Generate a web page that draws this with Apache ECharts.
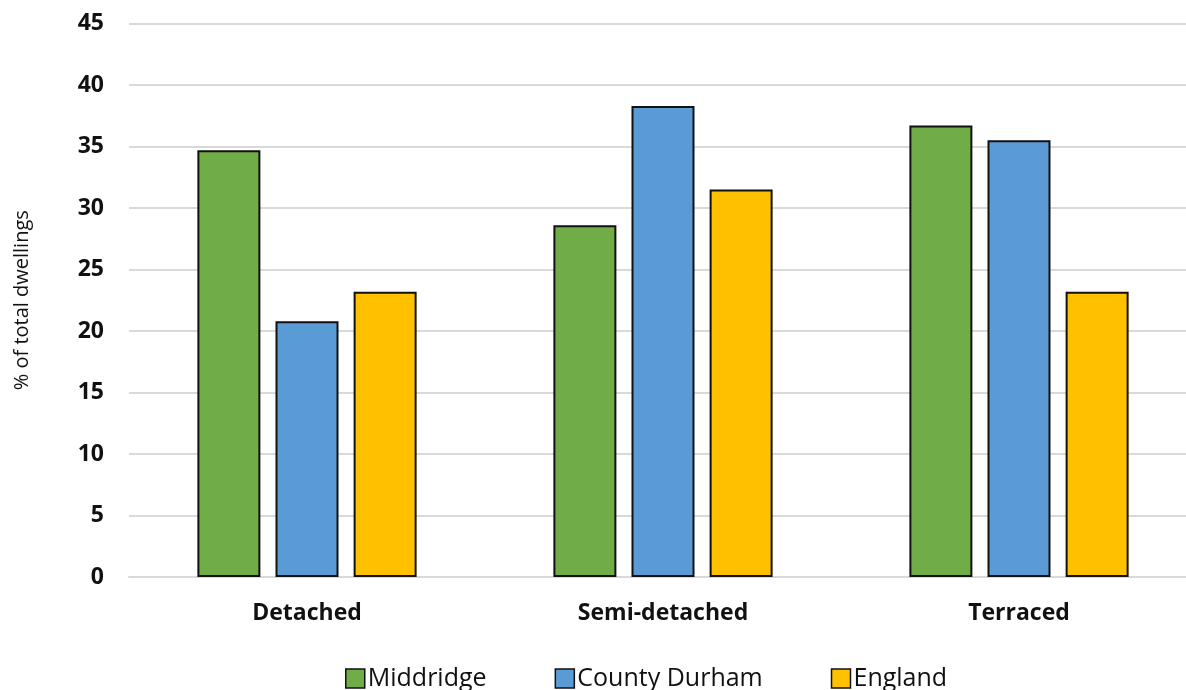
<!DOCTYPE html>
<html>
<head>
<meta charset="utf-8">
<script src="https://cdn.jsdelivr.net/npm/echarts@6/dist/echarts.min.js"></script>
<style>html,body{margin:0;padding:0;background:#fff;}#c{width:1186px;height:690px;}</style>
</head>
<body>
<div id="c"></div>
<script>
const categories = ['Detached', 'Semi-detached', 'Terraced'];
const middridge = [34.7, 28.6, 36.7];
const countyDurham = [20.8, 38.3, 35.5];
const england = [23.2, 31.5, 23.2];
const seriesNames = ['Middridge', 'County Durham', 'England'];
const colors = ['#70AD47', '#5B9BD5', '#FFC000'];

const chart = echarts.init(document.getElementById('c'));
const mk = (name, data, color) => ({
  name, type: 'bar', data,
  barWidth: 63, barGap: '24%',
  itemStyle: { color, borderColor: '#111', borderWidth: 2 }
});
chart.setOption({
  animation: false,
  color: colors,
  grid: { left: 129, width: 1068, top: 23.5, bottom: 113, outerBoundsMode: 'none', containLabel: false },
  legend: {
    left: 340, top: 661,
    itemWidth: 19, itemHeight: 19, itemGap: 68,
    icon: 'rect',
    itemStyle: { borderColor: '#111', borderWidth: 1.5 },
    textStyle: { fontFamily: 'Open Sans', fontSize: 25, color: '#111', padding: [0,0,0,-2] },
    data: seriesNames
  },
  xAxis: {
    type: 'category', data: categories,
    axisLine: { lineStyle: { color: '#d9d9d9', width: 2 } },
    axisTick: { show: false },
    axisLabel: { fontFamily: 'Open Sans', fontWeight: 'bold', fontSize: 23, color: '#111', margin: 25 }
  },
  yAxis: {
    type: 'value', min: 0, max: 45, interval: 5,
    name: '% of total dwellings', nameLocation: 'middle', nameGap: 97,
    nameTextStyle: { fontFamily: 'Open Sans', fontSize: 20, color: '#111' },
    axisLine: { show: false }, axisTick: { show: false },
    splitLine: { lineStyle: { color: '#d9d9d9', width: 2 } },
    axisLabel: { fontFamily: 'Open Sans', fontWeight: 'bold', fontSize: 23, color: '#111', margin: 25 }
  },
  series: [mk(seriesNames[0], middridge, colors[0]), mk(seriesNames[1], countyDurham, colors[1]), mk(seriesNames[2], england, colors[2])]
});
</script>
</body>
</html>
